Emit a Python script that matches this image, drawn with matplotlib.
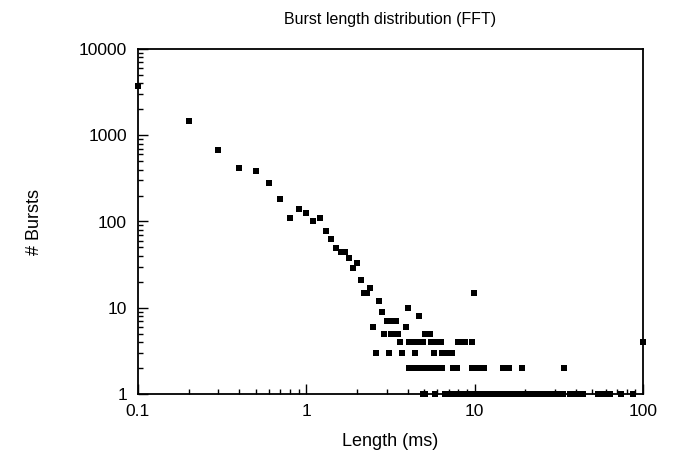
import matplotlib
matplotlib.use("Agg")
import matplotlib.pyplot as plt
from matplotlib.ticker import FuncFormatter, LogLocator, NullFormatter

plt.rcParams["font.family"] = ["Liberation Sans", "DejaVu Sans"]

# steep part of the distribution, 0.1 ms steps
head_len = [0.1, 0.2, 0.3, 0.4, 0.5, 0.6, 0.7, 0.8, 0.9, 1.0,
            1.1, 1.2, 1.3, 1.4, 1.5, 1.6, 1.7, 1.8, 1.9, 2.0,
            2.1, 2.2, 2.3, 2.4, 2.5, 2.6, 2.7, 2.8]
head_cnt = [3700, 1450, 675, 415, 390, 277, 181, 109, 138, 124,
            100, 109, 77, 62, 49, 44, 44, 38, 29, 33,
            21, 15, 15, 17, 6, 3, 12, 9]

# tail, grouped by count
len_15 = [9.9]
len_10 = [4.0]
len_8 = [4.7]
len_7 = [3.0, 3.1, 3.2, 3.3, 3.4]
len_6 = [3.9]
len_5 = [2.9, 3.2, 3.3, 3.4, 3.5, 5.1, 5.2, 5.3, 5.4]
len_4 = [3.6, 4.1, 4.2, 4.3, 4.4, 4.5, 4.6, 4.7, 4.8, 4.9,
         5.5, 5.6, 5.8, 5.9, 6.0, 6.1, 6.2, 6.3,
         8.0, 8.2, 8.4, 8.6, 8.8, 9.7, 100.0]
len_3 = [3.1, 3.7, 4.4, 5.7, 6.4, 6.6, 6.8, 7.0, 7.2, 7.3]
len_2 = [4.1, 4.2, 4.3, 4.7, 4.9, 5.1, 5.3, 5.5, 5.7, 5.9, 6.1, 6.3, 6.4,
         7.4, 7.6, 7.8, 7.9, 9.7, 10.0, 10.4, 10.8, 11.3,
         14.7, 15.3, 15.9, 19.0, 34.0]
len_1 = [4.9, 5.0, 5.1, 5.8, 6.7, 7.1, 7.5, 8.0, 8.5, 9.0, 9.6, 10.2,
         10.8, 11.5, 12.2, 13.0, 13.8, 14.7, 15.6, 16.6, 17.6, 18.7,
         19.9, 21.1, 22.4, 23.8, 25.3, 26.9, 28.6, 30.4, 32.0, 33.6,
         36.9, 38.5, 40.2, 42.0, 44.1, 53.7, 56.5, 59.5, 62.5, 63.6,
         74.4, 87.7]

tail = {15: len_15, 10: len_10, 8: len_8, 7: len_7, 6: len_6,
        5: len_5, 4: len_4, 3: len_3, 2: len_2, 1: len_1}

lengths = list(head_len)
counts = list(head_cnt)
for cnt, xs in tail.items():
    lengths += xs
    counts += [cnt] * len(xs)

fig = plt.figure(figsize=(6.82, 4.61), dpi=100)
ax = fig.add_axes([138 / 682, 1 - 394 / 461, 505 / 682, 345 / 461])

ax.plot(lengths, counts, linestyle="none", marker="s", markersize=5,
        color="black", markeredgewidth=0, clip_on=False)

ax.set_xscale("log")
ax.set_yscale("log")
ax.set_xlim(0.1, 100)
ax.set_ylim(1, 10000)

fmt = FuncFormatter(lambda v, pos: "%g" % v)
ax.xaxis.set_major_formatter(fmt)
ax.yaxis.set_major_formatter(fmt)
ax.xaxis.set_minor_locator(LogLocator(base=10, subs=range(2, 10)))
ax.yaxis.set_minor_locator(LogLocator(base=10, subs=range(2, 10)))
ax.xaxis.set_minor_formatter(NullFormatter())
ax.yaxis.set_minor_formatter(NullFormatter())

ax.tick_params(which="both", direction="in", top=False, right=False,
               labelsize=12.5, color="black")
ax.tick_params(which="major", length=7, width=1)
ax.tick_params(which="minor", length=3.5, width=1)
ax.tick_params(axis="x", pad=7)
ax.tick_params(axis="y", pad=8)
for s in ax.spines.values():
    s.set_linewidth(1.3)

ax.set_title("Burst length distribution (FFT)", fontsize=11.5, pad=18)
ax.set_xlabel("Length (ms)", fontsize=13, labelpad=10)
ax.set_ylabel("# Bursts", fontsize=13, labelpad=26)

fig.savefig("out.png", dpi=100)
